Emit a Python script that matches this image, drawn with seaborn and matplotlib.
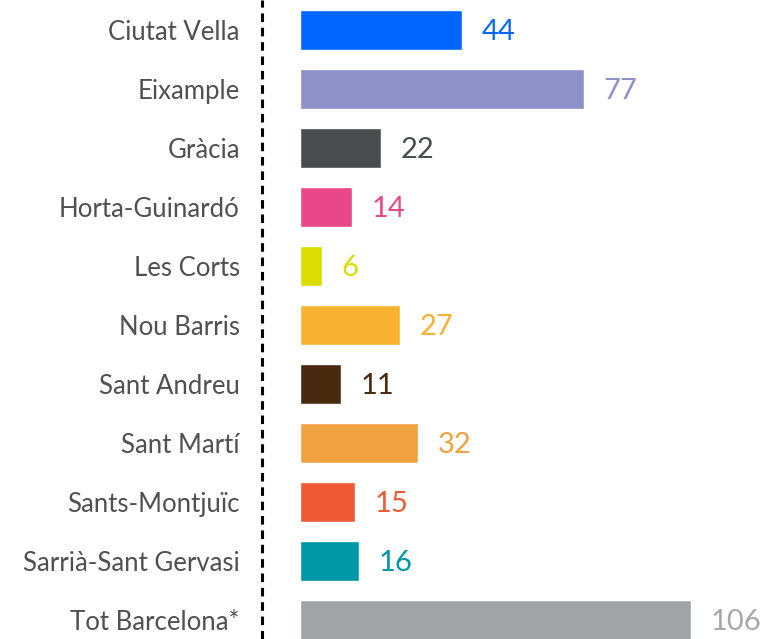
import pandas as pd
import numpy as np
import matplotlib
matplotlib.use("Agg")
import matplotlib.pyplot as plt
import seaborn as sns

# Data
districtes = ["Ciutat Vella", "Eixample", "Gràcia", "Horta-Guinardó", "Les Corts",
              "Nou Barris", "Sant Andreu", "Sant Martí", "Sants-Montjuïc",
              "Sarrià-Sant Gervasi", "Tot Barcelona*"]
valors = [44, 77, 22, 14, 6, 27, 11, 32, 15, 16, 106]
colors = ["#0066FF", "#8E90C8", "#4A4D50", "#E8488A", "#DCDC00", "#F8B232",
          "#4A2A0E", "#F0A140", "#EE5A33", "#0097A7", "#A2A3A6"]
colors_text = ["#0066FF", "#8E90C8", "#4A4D50", "#E8488A", "#DCDC00", "#F8B232",
               "#4A2A0E", "#F0A140", "#EE5A33", "#0097A7", "#A8A8A8"]

df = pd.DataFrame({"districte": districtes, "valor": valors})

sns.set_style("white")
plt.rcParams["font.family"] = ["Lato", "DejaVu Sans"]

fig = plt.figure(figsize=(7.68, 6.39), dpi=100)
ax = fig.add_axes([262 / 768, 0, 506 / 768, 1])

sns.barplot(data=df, x="valor", y="districte", hue="districte",
            palette=dict(zip(districtes, colors)), orient="h",
            width=0.69, saturation=1, legend=False, ax=ax)

# Value labels next to each bar
for i, (v, c) in enumerate(zip(valors, colors_text)):
    ax.text(v + 5.3, i + 0.04, str(v), color=c, fontsize=21,
            va="center", ha="left", clip_on=False)

ax.set_xlim(-10.3, 126.8)
ax.set_ylim(10.322, -0.508)
ax.set_xlabel("")
ax.set_ylabel("")
ax.set_xticks([])
ax.tick_params(axis="y", length=0, pad=16, labelsize=18.5, labelcolor="#505050")
for lbl in ax.get_yticklabels():
    lbl.set_va("center_baseline")

for s in ax.spines.values():
    s.set_visible(False)

# Dashed vertical line on the left
ax.axvline(-10.3, color="black", linewidth=2.2, linestyle=(0, (2.8, 1.9)),
           clip_on=False)

fig.savefig("out.png", dpi=100)
